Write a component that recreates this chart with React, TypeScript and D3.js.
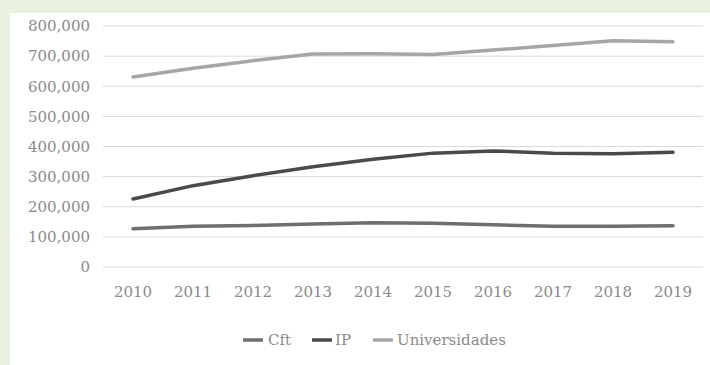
import React from "react";
import * as d3 from "d3";

const years = ["2010","2011","2012","2013","2014","2015","2016","2017","2018","2019"];
const cft = [127000,135000,138000,143000,147000,145000,140000,135000,135000,137000];
const ip = [226000,270000,303000,333000,358000,378000,385000,378000,376000,381000];
const universidades = [631000,660000,685000,707000,708000,705000,720000,735000,751000,748000];
const yTicks = [0,100000,200000,300000,400000,500000,600000,700000,800000];

const series = [
  { name: "Cft", values: cft, color: "#6e6e6e" },
  { name: "IP", values: ip, color: "#4a4a4a" },
  { name: "Universidades", values: universidades, color: "#a6a6a6" },
];

export default function App() {
  const W = 710, H = 365;
  const x = d3.scaleBand().domain(years).range([103, 703]);
  const y = d3.scaleLinear().domain([0, 800000]).range([267, 26]);
  const fmt = d3.format(",");
  const line = d3.line<number>()
    .x((_, i) => (x(years[i]) as number) + x.bandwidth() / 2)
    .y((d) => y(d));
  const font = "'DejaVu Serif', serif";
  const legendX = [243, 312, 373];
  const legendTextX = [268, 335, 397];
  return (
    <svg width={W} height={H} style={{ position: "absolute", left: 0, top: 0 }}>
      <rect x={0} y={0} width={W} height={H} fill="#e9f0de" />
      <rect x={10} y={13} width={W - 10} height={H - 13} fill="#ffffff" />
      {yTicks.map((t) => (
        <g key={t}>
          <line x1={103} x2={703} y1={y(t)} y2={y(t)} stroke="#d9d9d9" strokeWidth={1} />
          <text x={90} y={y(t)} dy="0.35em" textAnchor="end" fontFamily={font} fontSize={15} fill="#8a8a8a">{fmt(t)}</text>
        </g>
      ))}
      {years.map((yr) => (
        <text key={yr} x={(x(yr) as number) + x.bandwidth() / 2} y={292} dy="0.35em" textAnchor="middle" fontFamily={font} fontSize={15} fill="#8a8a8a">{yr}</text>
      ))}
      {series.map((s) => (
        <path key={s.name} d={line(s.values) || ""} fill="none" stroke={s.color} strokeWidth={3.5} strokeLinejoin="round" strokeLinecap="round" />
      ))}
      {series.map((s, i) => (
        <g key={s.name}>
          <line x1={legendX[i]} x2={legendX[i] + 20} y1={340} y2={340} stroke={s.color} strokeWidth={3.5} />
          <text x={legendTextX[i]} y={340} dy="0.35em" fontFamily={font} fontSize={15} fill="#8a8a8a">{s.name}</text>
        </g>
      ))}
    </svg>
  );
}
